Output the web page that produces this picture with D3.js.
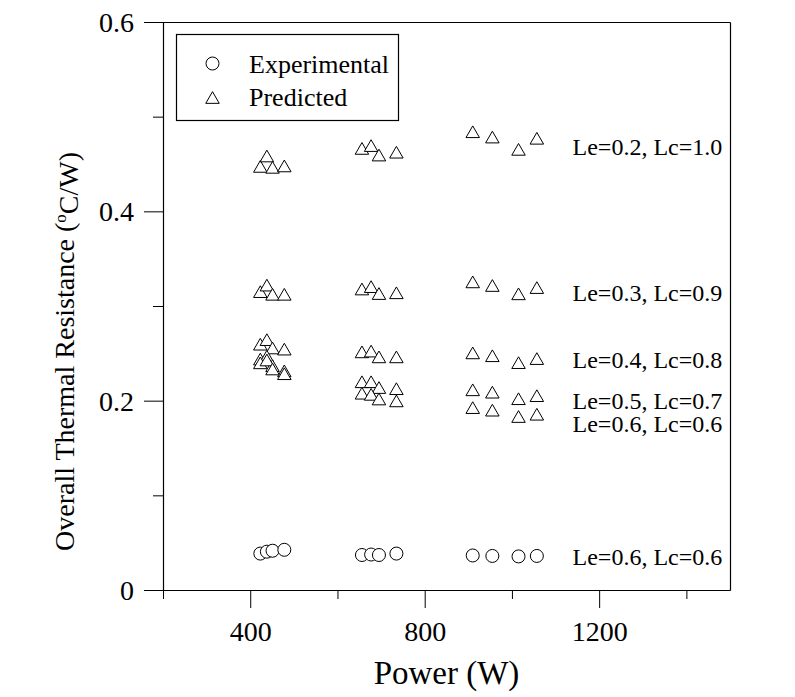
<!DOCTYPE html>
<html>
<head>
<meta charset="utf-8">
<script src="https://cdn.jsdelivr.net/npm/d3@7"></script>
<style>
  html, body { margin: 0; padding: 0; background: #fff; }
  svg { display: block; }
  text { font-family: "Liberation Serif", "Times New Roman", serif; fill: #000; }
</style>
</head>
<body>
<svg id="chart" width="795" height="697"></svg>
<script>
// ---- data ----
const powers = [422, 437, 450, 477, 655, 676, 694, 734, 909, 954, 1014, 1056];
const experimental = [0.039, 0.041, 0.042, 0.043, 0.0375, 0.038, 0.0375, 0.039, 0.037, 0.0365, 0.036, 0.0365];
const predLe02 = [0.448, 0.459, 0.447, 0.4485, 0.467, 0.470, 0.460, 0.463, 0.4846, 0.479, 0.466, 0.4777];
const predLe03 = [0.3157, 0.3226, 0.3129, 0.3129, 0.3185, 0.321, 0.3137, 0.3145, 0.326, 0.3222, 0.3134, 0.320];
const predLe04 = [0.2602, 0.265, 0.2562, 0.255, 0.2521, 0.2529, 0.2468, 0.2468, 0.251, 0.248, 0.2407, 0.245];
const predLe05 = [0.2445, 0.2475, 0.2375, 0.232, 0.2205, 0.2205, 0.2144, 0.2132, 0.212, 0.2095, 0.2026, 0.2058];
const predLe06 = [0.2405, 0.2435, 0.234, 0.229, 0.2084, 0.2072, 0.2023, 0.2003, 0.1932, 0.1905, 0.1838, 0.1862];
const predictedSeries = [predLe02, predLe03, predLe04, predLe05, predLe06];

const xMajorTicks = [400, 800, 1200];
const xMinorTicks = [200, 600, 1000, 1400];
const yMajorTicks = [0, 0.2, 0.4, 0.6];
const yMinorTicks = [0.1, 0.3, 0.5];

const legendLabels = ["Experimental", "Predicted"];
const annotationTexts = ["Le=0.2, Lc=1.0", "Le=0.3, Lc=0.9", "Le=0.4, Lc=0.8", "Le=0.5, Lc=0.7", "Le=0.6, Lc=0.6", "Le=0.6, Lc=0.6"];
const annotationPower = 1139;
const annotationValues = [0.46, 0.305, 0.2346, 0.1913, 0.1666, 0.0259];

const xTitle = "Power (W)";

// ---- layout ----
const svg = d3.select("#chart");
const x = d3.scaleLinear().domain([200, 1500]).range([163, 730]);
const y = d3.scaleLinear().domain([0, 0.6]).range([590, 22]);

// y axis
const yAxisMajor = d3.axisLeft(y).tickValues(yMajorTicks).tickSize(19).tickPadding(10)
  .tickFormat(d => d === 0 ? "0" : d3.format(".1f")(d));
const gy = svg.append("g").attr("transform", "translate(163,0)").call(yAxisMajor);
gy.selectAll("text").style("font-size", "28px").attr("dy", "0.34em");
const gyMinor = svg.append("g").attr("transform", "translate(163,0)")
  .call(d3.axisLeft(y).tickValues(yMinorTicks).tickSize(10).tickFormat(""));
gyMinor.select(".domain").remove();

// x axis
const xAxisMajor = d3.axisBottom(x).tickValues(xMajorTicks).tickSize(18).tickPadding(13)
  .tickFormat(d3.format("d"));
const gx = svg.append("g").attr("transform", "translate(0,590)").call(xAxisMajor);
gx.selectAll("text").style("font-size", "28px");
const gxMinor = svg.append("g").attr("transform", "translate(0,590)")
  .call(d3.axisBottom(x).tickValues(xMinorTicks).tickSize(9).tickFormat(""));
gxMinor.select(".domain").remove();

svg.selectAll(".domain").remove();
svg.selectAll(".tick line").attr("stroke", "#000").attr("stroke-width", 1);

// frame
const frame = svg.append("g").attr("fill", "none").attr("stroke", "#000").attr("stroke-width", 1.2);
frame.append("line").attr("x1", x(200) + 0.5).attr("x2", x(200) + 0.5).attr("y1", y(0.6) + 0.5).attr("y2", y(0) + 0.5);
frame.append("line").attr("x1", x(200) - 19).attr("x2", x(1500) + 0.5).attr("y1", y(0) + 0.5).attr("y2", y(0) + 0.5);
frame.append("line").attr("x1", x(200) - 19).attr("x2", x(1500) + 0.5).attr("y1", y(0.6) + 0.5).attr("y2", y(0.6) + 0.5);
frame.append("line").attr("x1", x(1500) + 0.5).attr("x2", x(1500) + 0.5).attr("y1", y(0.6) + 0.5).attr("y2", y(0) + 0.5);

// markers
const triSide = 13.5, triH = triSide * Math.sqrt(3) / 2;
const triPath = `M0,${-triH / 2}L${triSide / 2},${triH / 2}L${-triSide / 2},${triH / 2}Z`;
const circR = 6.5;

const marks = svg.append("g").attr("fill", "none").attr("stroke", "#000").attr("stroke-width", 1);
predictedSeries.forEach(series => {
  marks.append("g").selectAll("path").data(series).join("path")
    .attr("d", triPath)
    .attr("fill", "#fff")
    .attr("transform", (d, i) => `translate(${x(powers[i]) + 0.5},${y(d) + 0.5})`);
});
marks.append("g").selectAll("circle").data(experimental).join("circle")
  .attr("fill", "#fff")
  .attr("cx", (d, i) => x(powers[i]) + 0.5)
  .attr("cy", d => y(d) + 0.5)
  .attr("r", circR);

// annotations
svg.append("g").selectAll("text").data(annotationTexts).join("text")
  .attr("x", x(annotationPower))
  .attr("y", (d, i) => y(annotationValues[i]))
  .style("font-size", "24px")
  .text(d => d);

// legend
const legend = svg.append("g");
legend.append("rect").attr("x", 176.5).attr("y", 34.5).attr("width", 222).attr("height", 86)
  .attr("fill", "#fff").attr("stroke", "#000").attr("stroke-width", 1.2);
legend.append("circle").attr("cx", 212.5).attr("cy", 63.5).attr("r", circR)
  .attr("fill", "none").attr("stroke", "#000");
legend.append("path").attr("d", triPath).attr("transform", "translate(212.5,97.5)")
  .attr("fill", "none").attr("stroke", "#000");
legend.selectAll("text.lg").data(legendLabels).join("text").attr("class", "lg")
  .attr("x", 249).attr("y", (d, i) => i === 0 ? 72.5 : 105.5)
  .style("font-size", "26px").text(d => d);

// axis titles
svg.append("text").attr("x", (x(200) + x(1500)) / 2).attr("y", 684)
  .attr("text-anchor", "middle").style("font-size", "33px").text(xTitle);

const yt = svg.append("text").attr("transform", "translate(73.5,551) rotate(-90)")
  .attr("text-anchor", "start").style("font-size", "28px");
yt.append("tspan").text("Overall Thermal Resistance (");
yt.append("tspan").attr("dy", "-0.45em").style("font-size", "17px").text("o");
yt.append("tspan").attr("dy", "0.45em").text("C/W)");
</script>
</body>
</html>
